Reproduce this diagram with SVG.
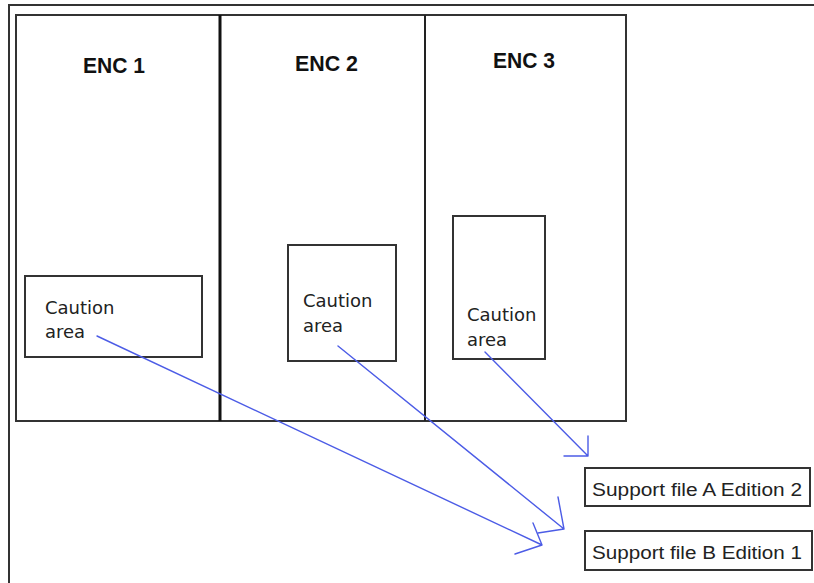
<svg xmlns="http://www.w3.org/2000/svg" width="814" height="583" viewBox="0 0 814 583">
<style>
.frame{fill:none;stroke:#333;stroke-width:2}
.box{fill:#fff;stroke:#333;stroke-width:2}
.enc{font-family:"Liberation Sans",Arial,sans-serif;font-weight:bold;font-size:22px;fill:#111}
.cau{font-family:"DejaVu Sans",Verdana,sans-serif;font-size:18px;fill:#222}
.sup{font-family:"Liberation Sans",Arial,sans-serif;font-size:18px;fill:#222}
.con{fill:none;stroke:#4c5ce6;stroke-width:1.4;stroke-linecap:round;stroke-linejoin:round}
</style>
<rect width="814" height="583" fill="#fff"/>
<path class="frame" d="M9,583 V5 H814"/>
<g id="enc-frame">
<rect class="frame" x="16" y="15" width="610" height="406"/>
<line x1="220" y1="15" x2="220" y2="421" stroke="#111" stroke-width="3"/>
<line x1="425" y1="15" x2="425" y2="421" stroke="#222" stroke-width="2"/>
</g>
<g id="enc1"><text class="enc" x="83" y="73" textLength="62" lengthAdjust="spacingAndGlyphs">ENC 1</text></g>
<g id="enc2"><text class="enc" x="295" y="71" textLength="63" lengthAdjust="spacingAndGlyphs">ENC 2</text></g>
<g id="enc3"><text class="enc" x="493" y="68" textLength="62" lengthAdjust="spacingAndGlyphs">ENC 3</text></g>
<g id="caution1">
<rect class="box" x="25" y="276" width="177" height="81"/>
<text class="cau" x="45" y="314">Caution</text>
<text class="cau" x="45" y="338">area</text>
</g>
<g id="caution2">
<rect class="box" x="288" y="245" width="108" height="116"/>
<text class="cau" x="303" y="307">Caution</text>
<text class="cau" x="303" y="332">area</text>
</g>
<g id="caution3">
<rect class="box" x="453" y="216" width="92" height="143"/>
<text class="cau" x="467" y="321">Caution</text>
<text class="cau" x="467" y="346">area</text>
</g>
<g id="supportA">
<rect class="box" x="585" y="468" width="225" height="38"/>
<text class="sup" x="592" y="496" textLength="210" lengthAdjust="spacingAndGlyphs">Support file A Edition 2</text>
</g>
<g id="supportB">
<rect class="box" x="585" y="531" width="227" height="39"/>
<text class="sup" x="592" y="559" textLength="210" lengthAdjust="spacingAndGlyphs">Support file B Edition 1</text>
</g>
<g id="connectors">
<path class="con" d="M97,336 L542,545 M533,523 L542,545 L515,554"/>
<path class="con" d="M338,346 L564,529 M558,497 L564,529 L538,533"/>
<path class="con" d="M485,352 L588,456 M588,436 L588,456 L564,456"/>
</g>
</svg>
